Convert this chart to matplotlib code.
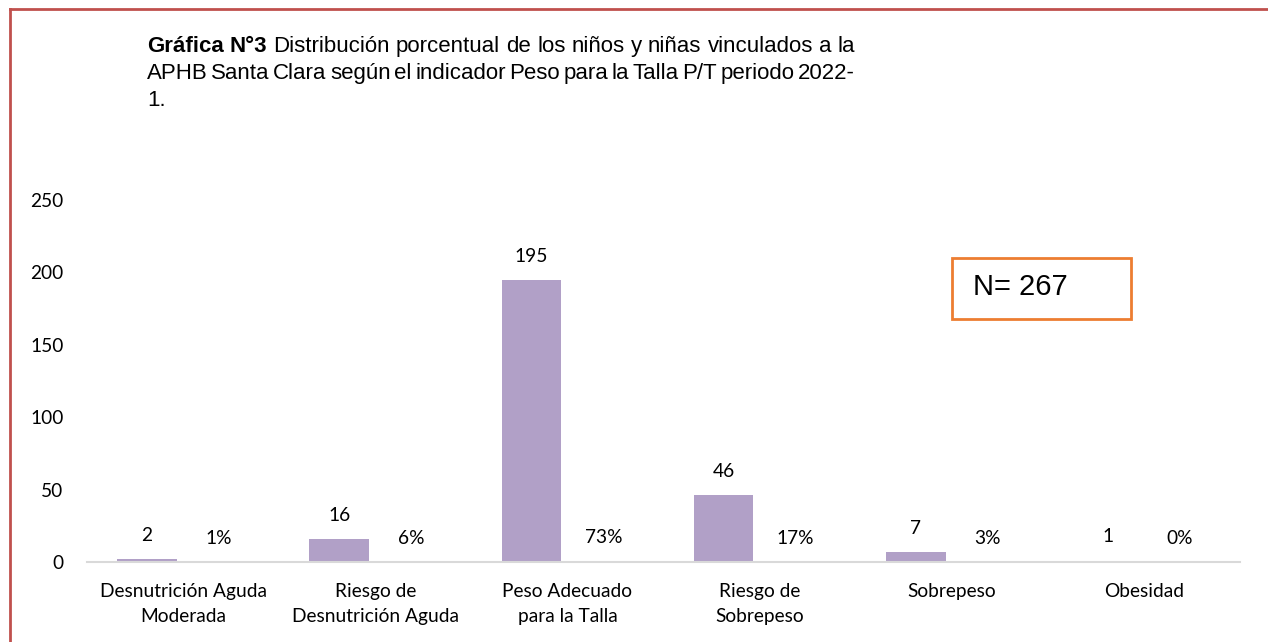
import matplotlib.pyplot as plt
from matplotlib.lines import Line2D
from matplotlib.patches import Rectangle
import numpy as np

categories = [
    "Desnutrición Aguda\nModerada",
    "Riesgo de\nDesnutrición Aguda",
    "Peso Adecuado\npara la Talla",
    "Riesgo de\nSobrepeso",
    "Sobrepeso",
    "Obesidad",
]
counts = [2, 16, 195, 46, 7, 1]
percents = [0.01, 0.06, 0.73, 0.17, 0.03, 0.00]
pct_labels = ["1%", "6%", "73%", "17%", "3%", "0%"]
y_ticks = [0, 50, 100, 150, 200, 250]

title_bold = "Gráfica N°3"
title_line1 = "Distribución porcentual de los niños y niñas vinculados a la"
title_line2 = "APHB Santa Clara según el indicador Peso para la Talla P/T periodo 2022-"
title_line3 = "1."
n_text = "N= 267"

W, H = 1268, 642
fig = plt.figure(figsize=(W / 100, H / 100), dpi=100)
fig.patch.set_facecolor("white")

LABEL_FONT = "Lato"
TITLE_FONT = "Liberation Sans"
LS = 13.8

ax = fig.add_axes([87 / W, 1 - 562 / H, (1240 - 87) / W, (562 - 200) / H])
x = np.arange(len(categories))
bw = 0.31
off = 0.1875
b1 = ax.bar(x - off, counts, width=bw, color="#B1A0C7", zorder=2)
b2 = ax.bar(x + off, percents, width=bw, color="#F9D5BB", zorder=2)

for rect, v in zip(b1, counts):
    ax.annotate(str(v), (rect.get_x() + rect.get_width() / 2, rect.get_height()),
                xytext=(0, 17), textcoords="offset points", ha="center", va="center",
                fontsize=LS, family=LABEL_FONT, color="#000000")
for rect, lab in zip(b2, pct_labels):
    ax.annotate(lab, (rect.get_x() + rect.get_width() / 2, rect.get_height()),
                xytext=(0, 17), textcoords="offset points", ha="center", va="center",
                fontsize=LS, family=LABEL_FONT, color="#000000")

ax.set_xlim(-0.5, len(categories) - 0.5)
ax.set_ylim(0, 250)
ax.set_yticks(y_ticks)
ax.set_xticks(x)
ax.set_xticklabels(categories, fontsize=LS, family=LABEL_FONT, linespacing=1.55)
ax.tick_params(axis="both", length=0)
ax.tick_params(axis="y", pad=17, labelsize=LS)
ax.tick_params(axis="x", pad=15)
for lab in ax.get_yticklabels():
    lab.set_family(LABEL_FONT)
for side in ["top", "right", "left"]:
    ax.spines[side].set_visible(False)
ax.spines["bottom"].set_color("#D9D9D9")
ax.spines["bottom"].set_linewidth(1.5)

# N box
fig.patches.append(Rectangle((952 / W, 1 - 319 / H), (1131 - 952) / W, (319 - 258) / H,
                             transform=fig.transFigure, fill=True, facecolor="white",
                             edgecolor="#ED7D31", linewidth=2, zorder=5))
fig.text(973 / W, 1 - 287 / H, n_text, fontsize=21, family=TITLE_FONT,
         ha="left", va="center", zorder=6)

# page border (left and top)
fig.lines.append(Line2D([10 / W, 10 / W], [0, 1 - 9 / H], transform=fig.transFigure,
                        color="#C0504D", linewidth=2))
fig.lines.append(Line2D([10 / W, 1], [1 - 9 / H, 1 - 9 / H], transform=fig.transFigure,
                        color="#C0504D", linewidth=2))

# justified title
renderer = fig.canvas.get_renderer()
x0, x1 = 147, 855
TS = 16


def justify(words, y, bold_first=0):
    arts = []
    for i, w in enumerate(words):
        t = fig.text(0, 1 - y / H, w, fontsize=TS, family=TITLE_FONT,
                     fontweight="bold" if i < bold_first else "normal",
                     ha="left", va="baseline")
        arts.append(t)
    widths = [a.get_window_extent(renderer).width for a in arts]
    gap = (x1 - x0 - sum(widths)) / (len(words) - 1)
    pos = x0
    for a, w in zip(arts, widths):
        a.set_x(pos / W)
        pos += w + gap


justify(title_bold.split() + title_line1.split(), 52, bold_first=2)
justify(title_line2.split(), 79)
fig.text(x0 / W, 1 - 106 / H, title_line3, fontsize=TS, family=TITLE_FONT,
         ha="left", va="baseline")

fig.savefig("out.png", dpi=100)
